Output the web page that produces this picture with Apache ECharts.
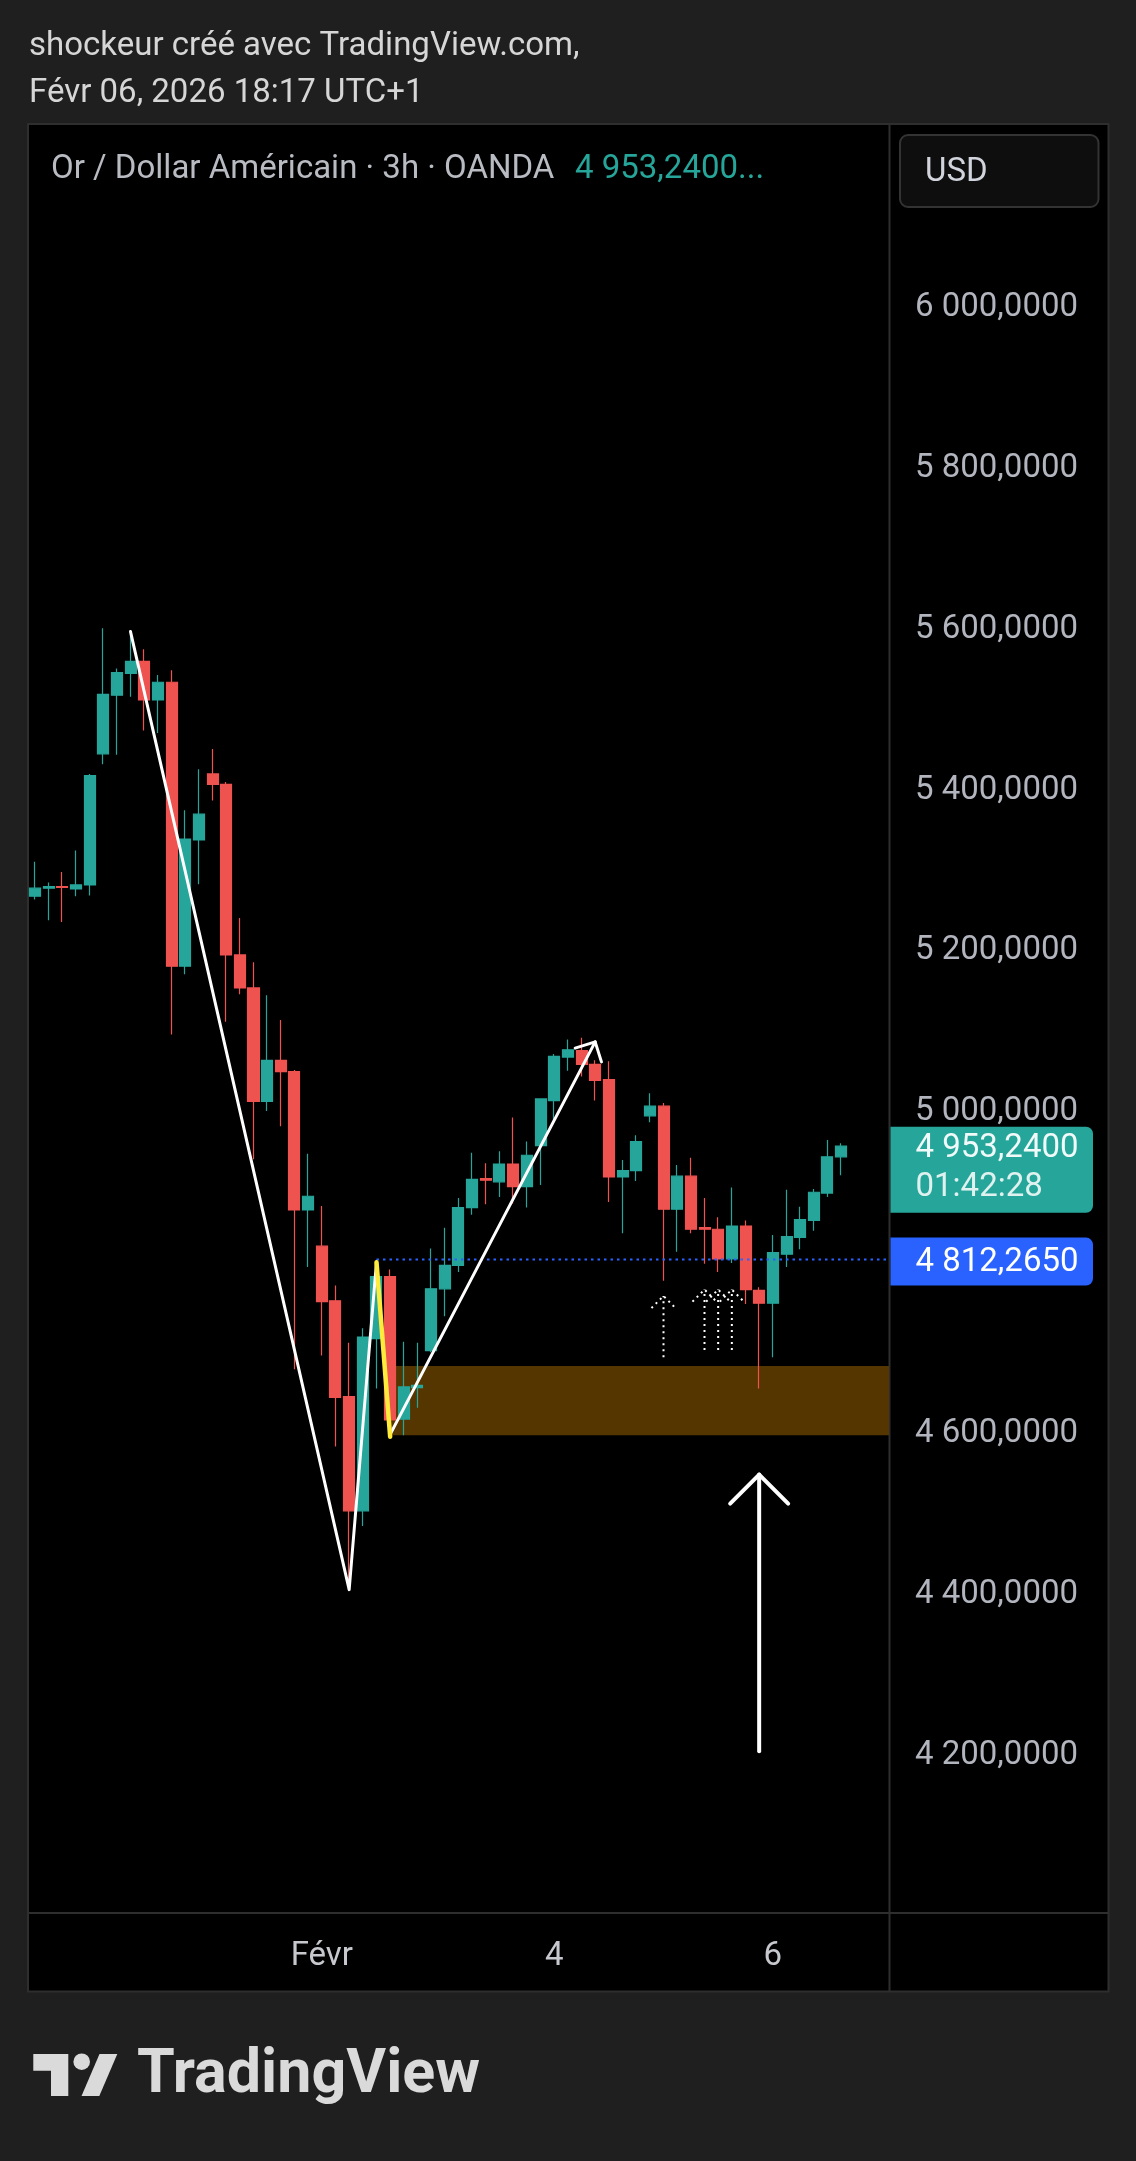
<!DOCTYPE html>
<html>
<head>
<meta charset="utf-8">
<script src="https://cdn.jsdelivr.net/npm/echarts@6/dist/echarts.min.js"></script>
<style>
html,body{margin:0;padding:0;background:#1f1f1f;}
#chart{width:1136px;height:2161px;}
</style>
</head>
<body>
<div id="chart"></div>
<script>
// ---- Data (XAU/USD, 3h, OANDA) ----
const opens  = [5264,5274,5276,5273,5278,5441,5514,5541,5556,5508,5530,5177,5334,5416,5403,5191,5150,5009,5060,5046,
                4874,4829,4761,4642,4500,4714,4791,4614,4653,4699,4776,4805,4877,4913,4909,4931,4903,4954,5010,5064,
                5072,5055,5036,4915,4923,4991,5003,4875,4916,4852,4850,4813,4854,4774,4758,4819,4840,4861,4895,4940];
const closes = [5274,5276,5275,5278,5414,5515,5542,5556,5508,5530,5177,5335,5366,5403,5191,5150,5009,5060,5046,4874,
                4891,4760,4641,4500,4716,4791,4613,4654,4656,4776,4805,4877,4912,4911,4931,4903,4942,5012,5065,5073,
                5055,5035,4915,4923,4959,5003,4875,4916,4850,4850,4813,4854,4775,4758,4821,4841,4862,4896,4940,4953.24];
const lows   = [5260,5234,5232,5264,5265,5428,5440,5512,5470,5467,5092,5167,5279,5383,5108,5142,4937,4997,4978,4676,
                4803,4693,4580,4402,4481,4652,4592,4594,4628,4697,4742,4797,4868,4881,4890,4882,4877,4905,4986,5047,
                5040,5010,4884,4845,4910,4983,4786,4822,4845,4807,4797,4808,4757,4652,4691,4803,4825,4848,4890,4917];
const highs  = [5307,5281,5294,5321,5416,5597,5547,5590,5571,5539,5545,5371,5422,5447,5406,5237,5182,5141,5110,5048,
                4944,4879,4780,4709,4727,4812,4800,4710,4709,4826,4852,4889,4945,4932,4947,4989,4959,5012,5068,5086,
                5088,5060,5059,4936,4967,5019,5007,4930,4939,4889,4865,4902,4861,4778,4843,4899,4878,4900,4961,4957];
const emptySlots = 3;                       // free space right of the last bar
const dayTickIndex  = [21, 38, 54];
const dayTickLabels = ['Févr', '4', '6'];
const lastPrice = 4953.24;
const countdown = '01:42:28';
const hiddenPriceTicks = [4000, 4800];

// ---- Drawings (in data coordinates: [bar index, price]) ----
const zigzag     = [[7, 5593], [23, 4402], [25, 4809]];
const yellowLeg  = [[25, 4809], [26, 4592]];
const trendArrow = [[26, 4595, 41, 5083]];
const dottedArrows = [[46, 4691, 4767], [49, 4700, 4775], [50, 4700, 4775], [51, 4700, 4775]];
const bigArrow   = [[53, 4201, 4545]];
const zone       = [[26, 4680, 4594]];
const hLine      = [[25, 4812.265]];

// ---- helpers ----
function fmtPrice(v) {
  const s = Number(v).toFixed(4).split('.');
  return s[0].replace(/\B(?=(\d{3})+(?!\d))/g, ' ') + ',' + s[1];
}
const categories = [];
for (let i = 0; i < opens.length + emptySlots; i++) categories.push(String(i));
const candles = opens.map((o, i) => [o, closes[i], lows[i], highs[i]]);

function head(tip, from, len) {
  const dx = from[0] - tip[0], dy = from[1] - tip[1];
  const d = Math.hypot(dx, dy) || 1;
  const ux = dx / d, uy = dy / d;
  const a = Math.PI / 4;
  const r = (ang) => [tip[0] + len * (ux * Math.cos(ang) - uy * Math.sin(ang)),
                      tip[1] + len * (ux * Math.sin(ang) + uy * Math.cos(ang))];
  return [r(a), tip, r(-a)];
}

const FONT = 'Roboto, "Noto Sans", sans-serif';
const FS = 33;
const chart = echarts.init(document.getElementById('chart'), null, {renderer: 'canvas'});

chart.setOption({
  backgroundColor: '#1f1f1f',
  animation: false,
  textStyle: {fontFamily: FONT},
  grid: {left: 28, right: 247, top: 124, bottom: 248},
  xAxis: {
    type: 'category',
    data: categories,
    boundaryGap: true,
    axisLine: {show: false},
    axisTick: {show: false},
    splitLine: {show: false},
    axisLabel: {
      interval: 0,
      margin: 40,
      verticalAlign: 'top',
      lineHeight: 8,
      color: '#c6c8ce',
      fontSize: FS,
      fontFamily: FONT,
      formatter: (v, i) => {
        const k = dayTickIndex.indexOf(i);
        return k >= 0 ? dayTickLabels[k] : '';
      }
    }
  },
  yAxis: {
    type: 'value',
    position: 'right',
    min: 4000,
    max: 6224,
    interval: 200,
    axisLine: {show: false},
    axisTick: {show: false},
    splitLine: {show: false},
    axisLabel: {
      margin: 26,
      verticalAlign: 'top',
      lineHeight: 7,
      color: '#b2b5be',
      fontSize: FS,
      fontFamily: FONT,
      formatter: (v) => (hiddenPriceTicks.indexOf(v) >= 0 || v > 6100) ? '' : fmtPrice(v)
    }
  },
  graphic: [
    {type: 'rect', z: -100, shape: {x: 28, y: 124, width: 1080.5, height: 1867.5},
     style: {fill: '#000000', stroke: '#2e2e2e', lineWidth: 2}},
    {type: 'line', z: -90, shape: {x1: 889.5, y1: 124, x2: 889.5, y2: 1991.5},
     style: {stroke: '#2e2e2e', lineWidth: 2}},
    {type: 'line', z: -90, shape: {x1: 28, y1: 1913, x2: 1108.5, y2: 1913},
     style: {stroke: '#2e2e2e', lineWidth: 2}},
    {type: 'text', z: 100, x: 29, y: 46.5,
     style: {text: 'shockeur créé avec TradingView.com,', font: FS + 'px ' + FONT, fill: '#d6d6d6', verticalAlign: 'middle'}},
    {type: 'text', z: 100, x: 29, y: 93.5,
     style: {text: 'Févr 06, 2026 18:17 UTC+1', font: FS + 'px ' + FONT, fill: '#d6d6d6', verticalAlign: 'middle'}},
    {type: 'text', z: 100, x: 51, y: 169.5,
     style: {text: 'Or / Dollar Américain · 3h · OANDA', font: FS + 'px ' + FONT, fill: '#b8bbc2', verticalAlign: 'middle'}},
    {type: 'text', z: 100, x: 575, y: 169.5,
     style: {text: fmtPrice(lastPrice) + '...', font: FS + 'px ' + FONT, fill: '#26a69a', verticalAlign: 'middle'}},
    {type: 'rect', z: 100, shape: {x: 900, y: 135, width: 198.5, height: 72, r: 8},
     style: {fill: '#0e0e0e', stroke: '#333333', lineWidth: 2}},
    {type: 'text', z: 101, x: 925, y: 172.5,
     style: {text: 'USD', font: FS + 'px ' + FONT, fill: '#d1d4dc', verticalAlign: 'middle'}},
    // TradingView logo
    {type: 'polygon', z: 100, shape: {points: [[33.3,2054],[68.3,2054],[68.3,2096],[51,2096],[51,2070.7],[33.3,2070.7]]},
     style: {fill: '#dadada'}},
    {type: 'circle', z: 100, shape: {cx: 81.7, cy: 2061.7, r: 8.3}, style: {fill: '#dadada'}},
    {type: 'polygon', z: 100, shape: {points: [[99.5,2054],[117.3,2054],[99.3,2096],[81.5,2096]]},
     style: {fill: '#dadada'}},
    {type: 'text', z: 100, x: 137, y: 2077,
     style: {text: 'TradingView', font: 'bold 61px ' + FONT, fill: '#dadada', verticalAlign: 'middle'}}
  ],
  series: [
    {
      name: 'zone', type: 'custom', z: 1, silent: true,
      data: zone,
      encode: {x: 0, y: [1, 2]},
      renderItem: (params, api) => {
        const a = api.coord([api.value(0), api.value(1)]);
        const b = api.coord([api.value(0), api.value(2)]);
        const cs = params.coordSys;
        return {type: 'rect', shape: {x: a[0], y: a[1], width: cs.x + cs.width - a[0], height: b[1] - a[1]},
                style: {fill: '#553600'}};
      }
    },
    {
      name: 'XAUUSD', type: 'candlestick', z: 2,
      data: candles,
      barWidth: 11.5,
      itemStyle: {color: '#26a69a', color0: '#ef5350', borderColor: '#26a69a', borderColor0: '#ef5350', borderWidth: 1.2}
    },
    {
      name: 'hline', type: 'custom', z: 3, silent: true,
      data: hLine,
      encode: {x: 0, y: 1},
      renderItem: (params, api) => {
        const a = api.coord([api.value(0), api.value(1)]);
        const cs = params.coordSys;
        return {type: 'line', shape: {x1: a[0], y1: a[1], x2: cs.x + cs.width, y2: a[1]},
                style: {stroke: '#2962ff', lineWidth: 2, lineDash: [2.5, 4]}};
      }
    },
    {
      name: 'zigzag', type: 'line', z: 4, silent: true, symbol: 'none',
      data: zigzag,
      lineStyle: {color: '#ffffff', width: 3, cap: 'round', join: 'round'}
    },
    {
      name: 'yellow', type: 'line', z: 5, silent: true, symbol: 'none',
      data: yellowLeg,
      lineStyle: {color: '#ffeb3b', width: 4.5, cap: 'round', join: 'round'}
    },
    {
      name: 'trend', type: 'custom', z: 4, silent: true,
      data: trendArrow,
      encode: {x: [0, 2], y: [1, 3]},
      renderItem: (params, api) => {
        const a = api.coord([api.value(0), api.value(1)]);
        const b = api.coord([api.value(2), api.value(3)]);
        const st = {stroke: '#ffffff', lineWidth: 3, lineCap: 'round', lineJoin: 'round', fill: null};
        return {type: 'group', children: [
          {type: 'line', shape: {x1: a[0], y1: a[1], x2: b[0], y2: b[1]}, style: st},
          {type: 'polyline', shape: {points: head(b, a, 21)}, style: st}
        ]};
      }
    },
    {
      name: 'dotted', type: 'custom', z: 4, silent: true,
      data: dottedArrows,
      encode: {x: 0, y: [1, 2]},
      renderItem: (params, api) => {
        const a = api.coord([api.value(0), api.value(1)]);
        const b = api.coord([api.value(0), api.value(2)]);
        const st = {stroke: '#ffffff', lineWidth: 2, lineDash: [2, 4], fill: null};
        return {type: 'group', children: [
          {type: 'line', shape: {x1: a[0], y1: a[1], x2: b[0], y2: b[1]}, style: st},
          {type: 'polyline', shape: {points: head(b, a, 17)}, style: st}
        ]};
      }
    },
    {
      name: 'bigArrow', type: 'custom', z: 4, silent: true,
      data: bigArrow,
      encode: {x: 0, y: [1, 2]},
      renderItem: (params, api) => {
        const a = api.coord([api.value(0), api.value(1)]);
        const b = api.coord([api.value(0), api.value(2)]);
        const st = {stroke: '#ffffff', lineWidth: 4, lineCap: 'round', lineJoin: 'round', fill: null};
        return {type: 'group', children: [
          {type: 'line', shape: {x1: a[0], y1: a[1], x2: b[0], y2: b[1]}, style: st},
          {type: 'polyline', shape: {points: head(b, a, 41)}, style: st}
        ]};
      }
    },
    {
      name: 'hlineLabel', type: 'custom', z: 10, silent: true,
      data: hLine,
      encode: {x: 0, y: 1},
      renderItem: (params, api) => {
        const p = api.coord([api.value(0), api.value(1)]);
        const cs = params.coordSys;
        const x0 = cs.x + cs.width + 1.5;
        return {type: 'group', children: [
          {type: 'rect', shape: {x: x0, y: p[1] - 22, width: 202.5, height: 48, r: [0, 7, 7, 0]},
           style: {fill: '#2962ff'}},
          {type: 'text', x: x0 + 25, y: p[1] + 3,
           style: {text: fmtPrice(api.value(1)), font: FS + 'px ' + FONT, fill: '#ffffff', verticalAlign: 'middle'}}
        ]};
      }
    },
    {
      name: 'lastLabel', type: 'custom', z: 10, silent: true,
      data: [[opens.length - 1, lastPrice]],
      encode: {x: 0, y: 1},
      renderItem: (params, api) => {
        const p = api.coord([api.value(0), api.value(1)]);
        const cs = params.coordSys;
        const x0 = cs.x + cs.width + 1.5;
        return {type: 'group', children: [
          {type: 'rect', shape: {x: x0, y: p[1] - 19.5, width: 202.5, height: 86, r: [0, 7, 7, 0]},
           style: {fill: '#26a69a'}},
          {type: 'text', x: x0 + 25, y: p[1] + 2.5,
           style: {text: fmtPrice(api.value(1)), font: FS + 'px ' + FONT, fill: '#f0faf9', verticalAlign: 'middle'}},
          {type: 'text', x: x0 + 25, y: p[1] + 42,
           style: {text: countdown, font: FS + 'px ' + FONT, fill: '#e0f2f0', verticalAlign: 'middle'}}
        ]};
      }
    }
  ]
});
</script>
</body>
</html>
